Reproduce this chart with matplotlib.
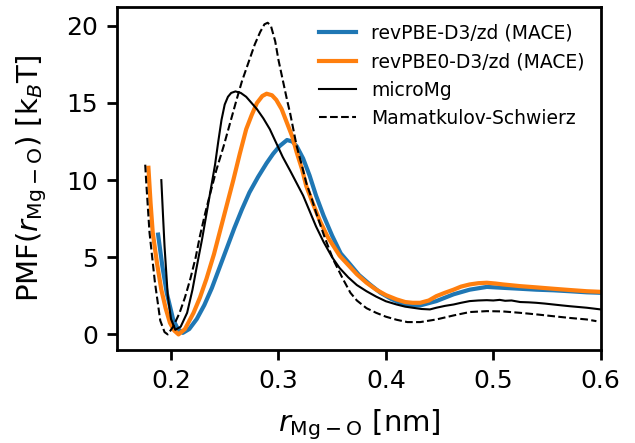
import numpy as np
import matplotlib
matplotlib.use("Agg")
import matplotlib.pyplot as plt

# revPBE-D3/zd (MACE)
x_pbe = [0.188, 0.192, 0.196, 0.202, 0.206, 0.211, 0.217, 0.224, 0.231, 0.238, 0.245, 0.252,
         0.259, 0.266, 0.273, 0.281, 0.289, 0.295, 0.301, 0.308, 0.313, 0.317, 0.323, 0.329,
         0.335, 0.342, 0.35, 0.358, 0.366, 0.375, 0.385, 0.395, 0.405, 0.415, 0.422, 0.432,
         0.447, 0.463, 0.478, 0.494, 0.509, 0.525, 0.54, 0.556, 0.571, 0.587, 0.6]
y_pbe = [6.47, 4.4, 2.7, 0.97, 0.4, 0.1, 0.35, 1.0, 1.9, 3.0, 4.3, 5.6,
         6.9, 8.1, 9.2, 10.2, 11.1, 11.7, 12.2, 12.6, 12.5, 12.2, 11.4, 10.3,
         9.0, 7.7, 6.4, 5.25, 4.6, 3.85, 3.25, 2.7, 2.3, 2.0, 1.9, 1.88,
         2.16, 2.6, 2.9, 3.08, 3.02, 2.96, 2.9, 2.86, 2.8, 2.73, 2.7]

# revPBE0-D3/zd (MACE)
x_pbe0 = [0.179, 0.181, 0.183, 0.187, 0.191, 0.195, 0.199, 0.203, 0.207, 0.213, 0.221, 0.227,
          0.233, 0.24, 0.246, 0.252, 0.258, 0.264, 0.27, 0.275, 0.28, 0.285, 0.289, 0.294,
          0.298, 0.303, 0.308, 0.313, 0.317, 0.322, 0.326, 0.332, 0.339, 0.346, 0.357, 0.365,
          0.373, 0.382, 0.391, 0.4, 0.41, 0.418, 0.425, 0.432, 0.44, 0.447, 0.455, 0.463,
          0.47, 0.478, 0.486, 0.494, 0.502, 0.509, 0.525, 0.54, 0.556, 0.571, 0.587, 0.6]
y_pbe0 = [10.8, 8.5, 6.6, 4.6, 2.9, 1.7, 0.75, 0.25, 0.0, 0.35, 1.4, 2.4,
          3.6, 5.2, 6.8, 8.4, 10.0, 11.7, 13.3, 14.2, 15.0, 15.45, 15.6, 15.5,
          15.2, 14.6, 13.7, 12.8, 11.8, 10.7, 9.6, 8.5, 7.3, 6.3, 5.1, 4.5,
          3.9, 3.35, 2.9, 2.55, 2.27, 2.1, 2.05, 2.05, 2.2, 2.48, 2.7, 2.9,
          3.1, 3.24, 3.32, 3.35, 3.3, 3.24, 3.13, 3.05, 2.96, 2.88, 2.8, 2.76]

# microMg
x_mic = [0.191, 0.1925, 0.194, 0.197, 0.2, 0.204, 0.209, 0.215, 0.22, 0.224, 0.229, 0.233,
         0.237, 0.241, 0.244, 0.247, 0.25, 0.253, 0.256, 0.26, 0.265, 0.27, 0.275, 0.28,
         0.286, 0.292, 0.298, 0.304, 0.311, 0.317, 0.323, 0.329, 0.335, 0.342, 0.35, 0.357,
         0.365, 0.373, 0.382, 0.391, 0.4, 0.41, 0.418, 0.425, 0.433, 0.441, 0.447, 0.455,
         0.463, 0.47, 0.478, 0.486, 0.494, 0.5, 0.506, 0.511, 0.517, 0.525, 0.533, 0.54,
         0.548, 0.556, 0.564, 0.571, 0.579, 0.587, 0.593, 0.6]
y_mic = [10.0, 7.8, 5.7, 2.5, 1.0, 0.3, 0.5, 1.4, 2.9, 4.4, 6.2, 7.8,
         9.4, 11.0, 12.5, 13.9, 14.9, 15.4, 15.65, 15.75, 15.65, 15.4, 15.0, 14.6,
         14.0, 13.3, 12.4, 11.5, 10.6, 9.8, 9.0, 8.0, 7.0, 6.0, 5.0, 4.3,
         3.7, 3.2, 2.8, 2.45, 2.15, 1.94, 1.8, 1.73, 1.65, 1.62, 1.73, 1.85,
         1.94, 2.05, 2.16, 2.2, 2.22, 2.2, 2.24, 2.18, 2.2, 2.1, 2.08, 2.05,
         2.0, 1.94, 1.88, 1.83, 1.78, 1.73, 1.68, 1.62]

# Mamatkulov-Schwierz
x_ms = [0.176, 0.177, 0.18, 0.185, 0.19, 0.194, 0.197, 0.202, 0.208, 0.213, 0.218, 0.223,
        0.227, 0.232, 0.236, 0.242, 0.249, 0.255, 0.261, 0.266, 0.273, 0.278, 0.283, 0.287,
        0.29, 0.293, 0.297, 0.3, 0.304, 0.308, 0.311, 0.317, 0.322, 0.326, 0.331, 0.335,
        0.343, 0.351, 0.36, 0.367, 0.373, 0.382, 0.391, 0.4, 0.41, 0.42, 0.432, 0.447,
        0.463, 0.478, 0.494, 0.509, 0.525, 0.54, 0.556, 0.571, 0.587, 0.596]
y_ms = [11.0, 9.8, 6.6, 3.4, 0.9, 0.15, 0.0, 0.5, 1.4, 2.4, 3.6, 5.0,
        6.4, 7.9, 9.0, 10.6, 12.2, 13.7, 15.2, 16.4, 17.8, 18.8, 19.6, 20.1,
        20.2, 20.0, 19.0, 17.8, 16.5, 15.2, 14.3, 12.2, 10.9, 9.8, 8.8, 7.9,
        6.3, 4.85, 3.6, 2.7, 2.2, 1.7, 1.4, 1.15, 0.95, 0.8, 0.8, 0.97,
        1.23, 1.45, 1.51, 1.49, 1.4, 1.3, 1.18, 1.07, 0.97, 0.86]

fig = plt.figure(figsize=(6.35, 4.43), dpi=100)
ax = fig.add_axes([0.1847, 0.2099, 0.7613, 0.7743])

ax.plot(x_pbe, y_pbe, color="#1f77b4", lw=3, label="revPBE-D3/zd (MACE)")
ax.plot(x_pbe0, y_pbe0, color="#ff7f0e", lw=3, label="revPBE0-D3/zd (MACE)")
ax.plot(x_mic, y_mic, color="black", lw=1.5, label="microMg")
ax.plot(x_ms, y_ms, color="black", lw=1.5, ls="--", label="Mamatkulov-Schwierz")

ax.set_xlim(0.15, 0.6)
ax.set_ylim(-1.01, 21.22)
ax.set_xticks([0.2, 0.3, 0.4, 0.5, 0.6])
ax.set_yticks([0, 5, 10, 15, 20])

for s in ax.spines.values():
    s.set_linewidth(2)
ax.tick_params(labelsize=18, width=2, length=7, pad=7)

ax.set_xlabel(r"$r_{\mathrm{Mg-O}}$ [nm]", fontsize=21, labelpad=10)
ax.set_ylabel(r"PMF($r_{\mathrm{Mg-O}}$) [k$_B$T]", fontsize=21, labelpad=12)

ax.legend(loc="upper right", frameon=False, fontsize=13.5,
          bbox_to_anchor=(1.002, 1.0), labelspacing=0.5)

fig.savefig("out.png", dpi=100)
